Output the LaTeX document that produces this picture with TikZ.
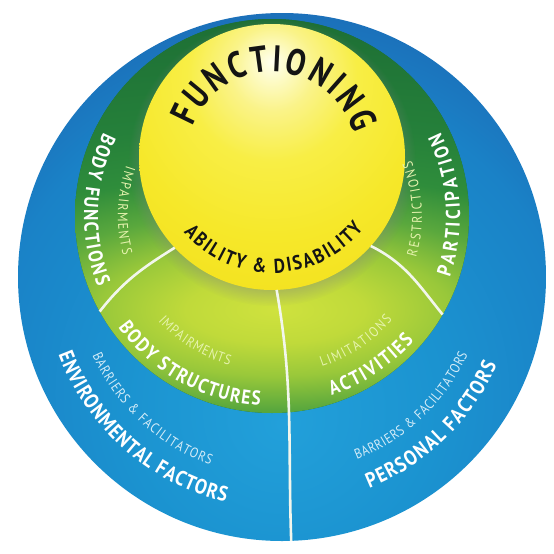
\documentclass[tikz,border=0pt]{standalone}
\usepackage{fontspec}
\usetikzlibrary{decorations.text,shadows,calc}
\newfontfamily\ptb[FakeStretch=0.86]{PT Sans}
\newfontfamily\ptn[FakeStretch=0.80]{PT Sans}
\newcommand\fFun{\ptn\bfseries\fontsize{37}{37}\selectfont}
\newcommand\fAbl{\ptb\bfseries\fontsize{20}{20}\selectfont}
\newcommand\fLab{\ptb\bfseries\fontsize{20}{20}\selectfont}
\newcommand\fBig{\ptb\bfseries\fontsize{21}{21}\selectfont}
\newcommand\fThin{\ptb\fontsize{14}{14}\selectfont}

\definecolor{blA}{HTML}{22A0DA}
\definecolor{blB}{HTML}{1B93D0}
\definecolor{blC}{HTML}{1A82C7}
\definecolor{blD}{HTML}{1C6BB6}
\definecolor{blE}{HTML}{1E5BA8}
\definecolor{blF}{HTML}{1F509E}
\definecolor{blG}{HTML}{1F4B98}
\definecolor{grA}{HTML}{CFE23E}
\definecolor{grB}{HTML}{C0DA3A}
\definecolor{grC}{HTML}{99C83A}
\definecolor{grD}{HTML}{5AA83D}
\definecolor{grE}{HTML}{2F8D3B}
\definecolor{grF}{HTML}{25803A}
\definecolor{grG}{HTML}{1C6C34}
\definecolor{grH}{HTML}{185F31}
\definecolor{yeA}{HTML}{FFFFF0}
\definecolor{yeB}{HTML}{FDFBC8}
\definecolor{yeC}{HTML}{FAF388}
\definecolor{yeD}{HTML}{F8EE45}
\definecolor{yeE}{HTML}{F6E82A}
\definecolor{yeF}{HTML}{F2DE18}
\definecolor{thinG}{HTML}{E6F3AE}
\definecolor{thinB}{HTML}{D4ECF8}
\definecolor{ink}{HTML}{141414}
\definecolor{divline}{HTML}{F2F6EC}

\pgfdeclareradialshading{blueball}{\pgfpoint{0bp}{-14bp}}{color(0bp)=(blA); color(15bp)=(blB); color(28bp)=(blC); color(36bp)=(blD); color(46bp)=(blE); color(56bp)=(blF); color(100bp)=(blG)}
\pgfdeclareradialshading{greenball}{\pgfpoint{0bp}{0bp}}{color(0bp)=(grA); color(2.7bp)=(grB); color(5.3bp)=(grC); color(8bp)=(grD); color(11bp)=(grE); color(15bp)=(grF); color(25bp)=(grG); color(37bp)=(grH); color(80bp)=(grH)}
\pgfdeclareradialshading{yellowball}{\pgfpoint{0bp}{18bp}}{color(0bp)=(yeA); color(3bp)=(yeB); color(8bp)=(yeC); color(16bp)=(yeD); color(28bp)=(yeE); color(45bp)=(yeF); color(100bp)=(yeF)}

\tikzset{
  disc/.style={circle,inner sep=0pt,outer sep=0pt},
  divider/.style={draw=divline,line width=2.6pt},
  arclabel/.style 2 args={decorate,decoration={text along path,text align=fit to path,text color=#1,text={#2}}}
}

\begin{document}
\begin{tikzpicture}[x=1pt,y=1pt]
\useasboundingbox (0,0) rectangle (554,-554);
\fill[white] (0,0) rectangle (554,-554);

% outer blue disc
\node[disc,minimum size=528pt,shade,shading=blueball] (B) at (282,-277) {};
% green disc
\node[disc,minimum size=394pt,fill=grG] (G) at (272,-216) {};
\begin{scope}
  \clip (G.center) circle[radius=197];
  \shade[shading=greenball] (-550,0) rectangle (1100,-620);
\end{scope}
% yellow disc
\node[disc,minimum size=266pt,shade,shading=yellowball,
  circular drop shadow={shadow xshift=0pt,shadow yshift=-5pt,shadow scale=1.08,opacity=0.45}] (Y) at (272,-157) {};

% dividers
\draw[divider] (Y.223.2) to[out=212,in=52] (G.209.4);
\draw[divider] (Y.318.9) to[out=-26.6,in=129] (G.330.2);
\draw[divider] (Y.272) to[out=-80,in=92] (B.272.4);

\coordinate (Yc) at (272,-157);
\coordinate (Gc) at (272,-216);
\coordinate (Bc) at (282,-270);

% yellow texts
\path[arclabel={ink}{|\fFun|FUNCTIONING}] ([shift={(159:85)}]Yc) arc[start angle=159,end angle=16,radius=85];
\path[arclabel={ink}{|\fAbl|ABILITY {\&} DISABILITY}] ([shift={(220.5:116)}]Yc) arc[start angle=220.5,end angle=322,radius=116];

% green texts
\path[arclabel={white}{|\fLab|BODY FUNCTIONS}] ([shift={(153.6:188)}]Gc) arc[start angle=153.6,end angle=202.1,radius=188];
\path[arclabel={thinG}{|\fThin|IMPAIRMENTS}] ([shift={(161:154)}]Gc) arc[start angle=161,end angle=194.8,radius=154];
\path[arclabel={white}{|\fLab|PARTICIPATION}] ([shift={(-19:188)}]Gc) arc[start angle=-19,end angle=26.5,radius=188];
\path[arclabel={thinG}{|\fThin|RESTRICTIONS}] ([shift={(-16.1:150)}]Gc) arc[start angle=-16.1,end angle=21.6,radius=150];
\path[arclabel={white}{|\fLab|BODY STRUCTURES}] ([shift={(216:190)}]Gc) arc[start angle=216,end angle=266.4,radius=190];
\path[arclabel={thinG}{|\fThin|IMPAIRMENTS}] ([shift={(222.7:155)}]Gc) arc[start angle=222.7,end angle=254.1,radius=155];
\path[arclabel={white}{|\fLab|ACTIVITIES}] ([shift={(288.4:189)}]Gc) arc[start angle=288.4,end angle=318.7,radius=189];
\path[arclabel={thinG}{|\fThin|LIMITATIONS}] ([shift={(288.3:159)}]Gc) arc[start angle=288.3,end angle=319.2,radius=159];

% blue texts
\path[arclabel={white}{|\fBig|ENVIRONMENTAL FACTORS}] ([shift={(200.7:239)}]Bc) arc[start angle=200.7,end angle=256.3,radius=239];
\path[arclabel={thinB}{|\fThin|BARRIERS {\&} FACILITATORS}] ([shift={(204.2:208)}]Bc) arc[start angle=204.2,end angle=249.8,radius=208];
\path[arclabel={white}{|\fBig|PERSONAL FACTORS}] ([shift={(291.8:235)}]Bc) arc[start angle=291.8,end angle=336.1,radius=235];
\path[arclabel={thinB}{|\fThin|BARRIERS {\&} FACILITATORS}] ([shift={(291.5:204)}]Bc) arc[start angle=291.5,end angle=335.6,radius=204];
\end{tikzpicture}
\end{document}
